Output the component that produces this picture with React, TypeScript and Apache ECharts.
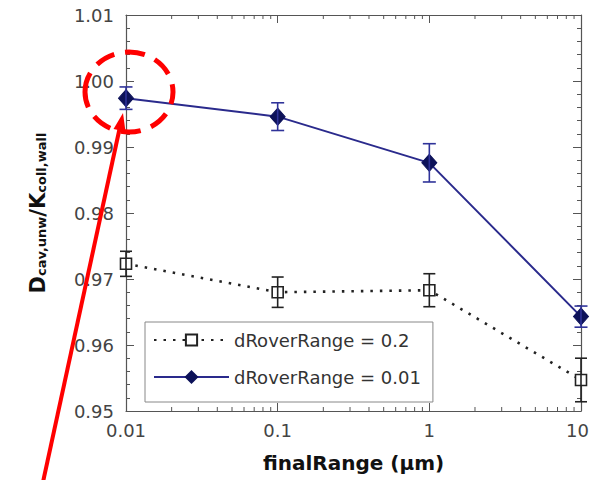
import React, { useEffect, useRef } from "react";
import * as echarts from "echarts";

const finalRange = [0.01, 0.1, 1, 10];
const ratio02 = [0.9723, 0.968, 0.9683, 0.9547];
const err02 = [0.0019, 0.0023, 0.0025, 0.0033];
const ratio001 = [0.9974, 0.9946, 0.9876, 0.9643];
const err001 = [0.0017, 0.0021, 0.0029, 0.0016];
const seriesNames = ["dRoverRange = 0.2", "dRoverRange = 0.01"];
const xMinorTicks = [
  0.02, 0.03, 0.04, 0.05, 0.06, 0.07, 0.08, 0.09,
  0.2, 0.3, 0.4, 0.5, 0.6, 0.7, 0.8, 0.9,
  2, 3, 4, 5, 6, 7, 8, 9,
];
const yMin = 0.95;
const yMax = 1.01;
const yStep = 0.01;
const xMin = 0.01;
const xMax = 10;

const FONT = "DejaVu Sans";

export default function App() {
  const ref = useRef<HTMLDivElement>(null);
  useEffect(() => {
    if (!ref.current) return;
    const chart = echarts.init(ref.current, null, { renderer: "svg" });

    const errData = (vals: number[], errs: number[]) =>
      finalRange.map((x, i) => [x, vals[i] - errs[i], vals[i] + errs[i]]);

    const errSeries = (vals: number[], errs: number[], color: string, hw: number) => ({
      type: "custom",
      z: 5,
      clip: false,
      encode: { x: 0, y: [1, 2] },
      data: errData(vals, errs),
      renderItem: (params: any, api: any) => {
        const x = api.value(0);
        const lo = api.coord([x, api.value(1)]);
        const hi = api.coord([x, api.value(2)]);
        const st = { stroke: color, lineWidth: 1.6 };
        return {
          type: "group",
          children: [
            { type: "line", shape: { x1: lo[0], y1: lo[1], x2: hi[0], y2: hi[1] }, style: st },
            { type: "line", shape: { x1: lo[0] - hw, y1: lo[1], x2: lo[0] + hw, y2: lo[1] }, style: st },
            { type: "line", shape: { x1: hi[0] - hw, y1: hi[1], x2: hi[0] + hw, y2: hi[1] }, style: st },
          ],
        };
      },
    });

    const axisColor = "#555";
    const labelStyle = { fontFamily: FONT, fontSize: 18, color: "#444" };

    chart.setOption({
      animation: false,
      backgroundColor: "#fff",
      grid: { left: 126, right: 9, top: 15, bottom: 69, outerBoundsMode: "none" },
      legend: {
        data: seriesNames,
        orient: "vertical",
        left: 145,
        top: 322,
        backgroundColor: "#fff",
        borderColor: "#888",
        borderWidth: 1,
        padding: [9, 12, 16, 8],
        itemWidth: 75,
        itemHeight: 14,
        itemGap: 19,
        textStyle: { fontFamily: FONT, fontSize: 18, color: "#333" },
      },
      xAxis: [
        {
          type: "log",
          logBase: 10,
          min: xMin,
          max: xMax,
          name: "finalRange (\u00b5m)",
          nameLocation: "middle",
          nameGap: 42,
          nameTextStyle: { fontFamily: FONT, fontSize: 20, fontWeight: "bold", color: "#111" },
          axisLine: { lineStyle: { color: axisColor, width: 1.2 } },
          axisTick: { inside: true, length: 8, lineStyle: { color: axisColor } },
          axisLabel: {
            ...labelStyle,
            margin: 10,
            formatter: (v: number) => {
              const s = String(+Number(v).toPrecision(6));
              return Number(v) >= xMax ? "{r|" + s + "}" : s;
            },
            rich: { r: { ...labelStyle, padding: [0, 7, 0, 0] } },
          },
          splitLine: { show: false },
        },
        {
          type: "log",
          logBase: 10,
          min: xMin,
          max: xMax,
          position: "top",
          axisLine: { lineStyle: { color: axisColor, width: 1.2 } },
          axisTick: { inside: true, length: 8, lineStyle: { color: axisColor } },
          axisLabel: { show: false },
          splitLine: { show: false },
        },
      ],
      yAxis: [
        {
          type: "value",
          min: yMin,
          max: yMax,
          interval: yStep,
          name: "{b|D}{s|cav,unw}{b|/K}{s|coll,wall}",
          nameLocation: "middle",
          nameRotate: 90,
          nameGap: 78,
          nameTextStyle: {
            rich: {
              b: { fontFamily: FONT, fontSize: 21, fontWeight: "bold", color: "#111", verticalAlign: "bottom" },
              s: { fontFamily: FONT, fontSize: 13, fontWeight: "bold", color: "#111", verticalAlign: "bottom" },
            },
          },
          axisLine: { show: true, lineStyle: { color: axisColor, width: 1.2 } },
          axisTick: { inside: true, length: 8, lineStyle: { color: axisColor } },
          minorTick: { show: true, splitNumber: 5, length: 4, lineStyle: { color: axisColor } },
          axisLabel: { ...labelStyle, margin: 12, formatter: (v: number) => v.toFixed(2) },
          splitLine: { show: false },
        },
        {
          type: "value",
          min: yMin,
          max: yMax,
          interval: yStep,
          position: "right",
          axisLine: { show: true, lineStyle: { color: axisColor, width: 1.2 } },
          axisTick: { inside: true, length: 8, lineStyle: { color: axisColor } },
          minorTick: { show: true, splitNumber: 5, length: 4, lineStyle: { color: axisColor } },
          axisLabel: { show: false },
          splitLine: { show: false },
        },
      ],
      series: [
        {
          name: seriesNames[0],
          type: "line",
          data: finalRange.map((x, i) => [x, ratio02[i]]),
          symbol: "rect",
          symbolSize: 11,
          z: 3,
          lineStyle: { color: "#222", width: 2.6, type: [2.5, 7] },
          itemStyle: { color: "#fff", borderColor: "#222", borderWidth: 1.6 },
        },
        {
          name: seriesNames[1],
          type: "line",
          data: finalRange.map((x, i) => [x, ratio001[i]]),
          symbol: "diamond",
          symbolSize: [15, 17],
          z: 4,
          lineStyle: { color: "#2a2a8c", width: 2 },
          itemStyle: { color: "#0d1259", borderColor: "#0d1259", borderWidth: 1 },
        },
        errSeries(ratio02, err02, "#222", 6),
        errSeries(ratio001, err001, "#2f3399", 6.5),
        {
          type: "custom",
          z: 2,
          clip: false,
          silent: true,
          data: xMinorTicks.map((v) => [v, yMin]),
          encode: { x: 0, y: 1 },
          renderItem: (params: any, api: any) => {
            const p = api.coord([api.value(0), yMin]);
            const cs = params.coordSys;
            const st = { stroke: axisColor, lineWidth: 1 };
            return {
              type: "group",
              children: [
                { type: "line", shape: { x1: p[0], y1: cs.y + cs.height, x2: p[0], y2: cs.y + cs.height - 4 }, style: st },
                { type: "line", shape: { x1: p[0], y1: cs.y, x2: p[0], y2: cs.y + 4 }, style: st },
              ],
            };
          },
        },
      ],
      graphic: [
        {
          type: "ellipse",
          z: 100,
          shape: { cx: 129, cy: 92, rx: 44, ry: 40 },
          style: { fill: "none", stroke: "#ff0000", lineWidth: 5, lineDash: [20, 11] },
        },
        {
          type: "line",
          z: 100,
          shape: { x1: 43, y1: 482, x2: 119.5, y2: 129 },
          style: { stroke: "#ff0000", lineWidth: 4 },
        },
        {
          type: "polygon",
          z: 100,
          shape: { points: [[123, 113], [125.5, 131.5], [113.5, 129]] },
          style: { fill: "#ff0000" },
        },
      ],
    });
    return () => chart.dispose();
  }, []);
  return (
    <div
      ref={ref}
      style={{ position: "fixed", left: 0, top: 0, width: 590, height: 480, background: "#fff" }}
    />
  );
}
